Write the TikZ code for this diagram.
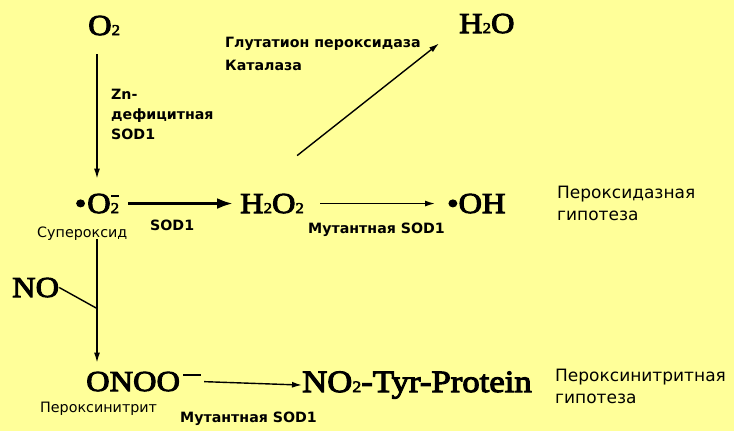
\documentclass[tikz,border=0pt]{standalone}
\usepackage{fontspec}
\setmainfont{Liberation Serif}
\newfontfamily\chemfont[FakeStretch=1.12, FakeBold=3.5]{Liberation Serif}
\newfontfamily\labelfont{DejaVu Sans}
\definecolor{bgyellow}{RGB}{255, 255, 153}
\definecolor{inkblack}{RGB}{0, 0, 0}
\usepackage{tikz}
\usetikzlibrary{arrows.meta, positioning, calc}

\newcommand{\sm}[1]{{\fontsize{15}{15}\selectfont #1}}

\tikzset{
  chem/.style={inner sep=0pt, text=inkblack, font=\chemfont\fontsize{29}{29}\selectfont},
  lbl/.style={inner sep=0pt, text=inkblack, align=left, font=\labelfont\fontsize{14.3}{21}\selectfont},
  hyp/.style={inner sep=0pt, text=inkblack, align=left, font=\labelfont\fontsize{17}{22}\selectfont},
  lblb/.style={inner sep=0pt, text=inkblack, align=left, font=\labelfont\bfseries\fontsize{14.2}{20}\selectfont},
  arr/.style={draw=inkblack, line width=1.4pt, -{Latex[length=10pt, width=6pt]}},
  bigarr/.style={draw=inkblack, line width=3pt, -{Latex[length=16pt, width=11pt]}},
}

\begin{document}
\begin{tikzpicture}[x=1pt, y=-1pt]
  \fill[bgyellow] (0,0) rectangle (734,431);
  \useasboundingbox (0,0) rectangle (734,431);

  % Species
  \node[chem, anchor=base west] (o2) at (88,35) {O\sm{2}};
  \node[chem, anchor=base] (sup) at (97,213) {\textbullet\kern1pt O\makebox[0pt][l]{\kern0.5pt\raisebox{16pt}{\rule{7.5pt}{2.2pt}}}\sm{2}};
  \node[chem, anchor=base west] (h2o2) at (240,213) {H\sm{2}O\sm{2}};
  \node[chem, anchor=base west] (oh) at (447,213) {\textbullet OH};
  \node[chem, anchor=base west] (h2o) at (459,33) {H\sm{2}O};
  \node[chem, anchor=base west] (no) at (12,297) {NO};
  \node[chem, anchor=base west] (onoo) at (86,391) {ONOO\kern3pt\raisebox{15pt}{\rule{18pt}{2.2pt}}};
  \node[chem, anchor=base west, font=\chemfont\fontsize{31}{31}\selectfont] (tyr) at (302,392) {NO{\fontsize{16}{16}\selectfont 2}-Tyr-Protein};

  % Enzymes and names
  \node[lblb, anchor=north west] (zn) at (111,89) {Zn-\\дефицитная\\SOD1};
  \node[lblb, anchor=base west] (gpx) at (225,47) {Глутатион пероксидаза};
  \node[lblb, anchor=base west] (cat) at (225,70) {Каталаза};
  \node[lbl, anchor=base west] (supname) at (37,237) {Супероксид};
  \node[lblb, anchor=base west] (sod) at (150,230) {SOD1};
  \node[lblb, anchor=base west] (mut1) at (308,233) {Мутантная SOD1};
  \node[hyp, anchor=north west] (hyp1) at (557,186) {Пероксидазная\\гипотеза};
  \node[lbl, anchor=base west] (onooname) at (40,412) {Пероксинитрит};
  \node[lblb, anchor=base west] (mut2) at (180,422) {Мутантная SOD1};
  \node[hyp, anchor=north west] (hyp2) at (555,369) {Пероксинитритная\\гипотеза};

  % Reactions
  \draw[arr, shorten <=19pt, shorten >=15pt] (o2.south -| sup.north) -- (sup.north);
  \draw[bigarr, yshift=1pt, shorten <=9pt, shorten >=7pt] (sup.east) -- (h2o2.west);
  \draw[arr, yshift=1pt, shorten <=16pt, shorten >=12pt] (h2o2.east) -- (oh.west);
  \coordinate (fork) at ($(h2o2.north east)+(-7,-38)$);
  \coordinate (tip) at ($(h2o.south west)+(-20,10)$);
  \draw[arr] (fork) -- (tip);
  \coordinate (join) at ($(sup.south)+(0,95)$);
  \draw[arr, shorten <=26pt] (sup.south) -- ($(sup.south |- onoo.north)+(0,-9)$);
  \draw[inkblack, line width=1.4pt] (no.east) -- (join);
  \draw[arr, shorten <=3pt] (onoo.east) -- (tyr.west);
\end{tikzpicture}
\end{document}
